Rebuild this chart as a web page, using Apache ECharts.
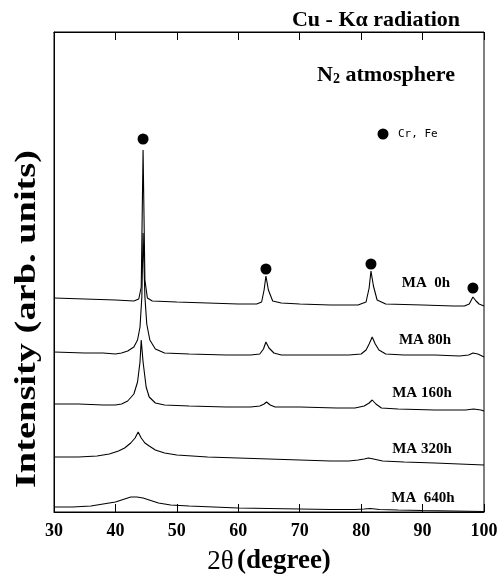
<!DOCTYPE html>
<html><head><meta charset="utf-8">
<script src="https://cdn.jsdelivr.net/npm/echarts@6/dist/echarts.min.js"></script>
<style>html,body{margin:0;padding:0;background:#fff}#c{width:503px;height:574px}</style>
</head><body><div id="c"></div>
<script>
var xTicks = [30, 40, 50, 60, 70, 80, 90, 100];
var seriesNames = ['MA  0h', 'MA 80h', 'MA 160h', 'MA 320h', 'MA  640h'];
var ma0h = [[30,214],[35,213],[40,212],[43,211],[43.8,213],[44.2,225],[44.5,362],[44.8,232],[45.2,214],[46,211],[50,210],[55,209],[60,208],[63,208],[63.8,210],[64.2,222],[64.5,236],[64.9,222],[65.6,211],[67,209],[70,208],[75,207],[79.5,207],[80.8,210],[81.3,224],[81.6,241],[82.0,226],[82.6,212],[84,208],[90,207],[95,206],[96.8,206],[97.6,208],[98.2,215],[98.7,211],[99.2,208],[100,206]];
var ma80h = [[30,160],[35,159],[38,159],[40,158],[41,159],[42,161],[43,165],[43.6,172],[44,185],[44.3,215],[44.5,279],[44.8,215],[45.1,188],[45.6,172],[46.5,163],[48,159],[52,158],[58,157],[62,157],[63.5,158],[64.1,163],[64.5,170],[65,164],[65.8,159],[67,157],[72,157],[78,157],[80,158],[80.8,162],[81.3,168],[81.8,175],[82.3,168],[82.9,162],[84,158],[87,157],[92,157],[96,156],[97.5,157],[98.2,159],[99,158],[100,155]];
var ma160h = [[30,108],[34,108],[38,107],[40,107],[41,108],[42,111],[43,118],[43.6,130],[44,150],[44.2,172],[44.5,150],[45,125],[45.5,115],[46.5,109],[48,107],[52,106],[58,105],[62,105],[63.5,106],[64.2,108],[64.6,110],[65.2,107],[66,105],[70,105],[76,104],[79,104],[80.5,106],[81.3,109],[81.8,112],[82.4,108],[83.3,104],[86,103],[92,102],[97,102],[98.3,103],[99.5,102],[100,101]];
var ma320h = [[30,55],[34,55],[37,56],[39,58],[40.5,61],[41.5,64],[42.5,69],[43.2,74],[43.7,80],[44.2,74],[44.8,69],[45.5,66],[46.5,62],[48,59],[50,57],[55,55],[60,54],[65,53],[70,52],[75,51],[78,51],[79.5,52],[80.5,53],[81.2,54],[82,53],[83.5,51],[87,50],[92,49],[96,48],[100,47]];
var ma640h = [[30,5],[33,5],[36,6],[38,8],[40,10],[41.5,13],[42.5,15],[43.5,15],[44.5,14],[45.5,12],[47,9],[49,7],[52,6],[56,5],[60,4],[65,3.5],[70,3],[75,2.5],[79,2.5],[80.5,3],[81.5,3.5],[83,2.5],[86,2],[90,1.5],[95,1],[100,0.5]];
var peakMarks = [[44.5,373],[64.5,243],[81.6,248],[98.2,224]];

var serif = '"Liberation Serif", "Times New Roman", serif';
var chart = echarts.init(document.getElementById('c'), null, {renderer: 'canvas'});
function line(name, data) {
  return {name: name, type: 'line', data: data, showSymbol: false, smooth: false,
    lineStyle: {color: '#000', width: 1.1}, animation: false, silent: true};
}
var labelPos = [[426, 283], [425, 340], [422, 393], [422, 449], [423, 498]];
var graphics = seriesNames.map(function (n, i) {
  return {type: 'text', x: labelPos[i][0], y: labelPos[i][1], silent: true,
    style: {text: n, font: 'bold 15px ' + serif, fill: '#000', align: 'center', verticalAlign: 'middle'}};
});
graphics.push({type: 'text', x: 376, y: 20, silent: true,
  style: {text: 'Cu - Kα radiation', font: 'bold 22px ' + serif, fill: '#000', align: 'center', verticalAlign: 'middle'}});
graphics.push({type: 'text', x: 386, y: 75, silent: true,
  style: {text: '{a|N}{b|2}{a| atmosphere}', align: 'center', verticalAlign: 'middle',
    rich: {a: {font: 'bold 22px ' + serif, fill: '#000'}, b: {font: 'bold 14px ' + serif, fill: '#000', padding: [8, 0, 0, 0]}}}});
graphics.push({type: 'circle', shape: {cx: 383, cy: 134, r: 5.5}, style: {fill: '#000'}, silent: true});
graphics.push({type: 'text', x: 398, y: 134, silent: true,
  style: {text: 'Cr, Fe', font: '11px "DejaVu Sans Mono", monospace', fill: '#000', align: 'left', verticalAlign: 'middle'}});
graphics.push({type: 'text', x: 27, y: 319, rotation: Math.PI / 2, scaleX: 1.28, scaleY: 1, silent: true,
  style: {text: 'Intensity (arb. units)', font: 'bold 30px ' + serif, fill: '#000', align: 'center', verticalAlign: 'middle'}});

chart.setOption({
  animation: false,
  grid: {left: 54, right: 19, top: 32, bottom: 62, show: true, borderColor: '#000', borderWidth: 1,
    containLabel: false, outerBoundsMode: 'none'},
  xAxis: [{
    type: 'value', min: 30, max: 100, interval: 10, position: 'bottom',
    axisLine: {show: true, lineStyle: {color: '#000', width: 1}},
    axisTick: {show: true, inside: true, length: 8, lineStyle: {color: '#000'}},
    axisLabel: {show: true, margin: 10, color: '#000', fontFamily: serif, fontWeight: 'bold', fontSize: 18,
      formatter: function (v) { return xTicks.indexOf(v) >= 0 ? String(v) : ''; }},
    splitLine: {show: false},
    name: '{a|2θ} {b|(degree)}', nameLocation: 'middle', nameGap: 36,
    nameTextStyle: {rich: {a: {fontFamily: serif, fontSize: 27, color: '#000'}, b: {fontFamily: serif, fontSize: 27, fontWeight: 'bold', color: '#000'}}}
  }, {
    type: 'value', min: 30, max: 100, interval: 10, position: 'top',
    axisLine: {show: true, lineStyle: {color: '#000'}},
    axisTick: {show: true, inside: true, length: 8, lineStyle: {color: '#000'}},
    axisLabel: {show: false}, splitLine: {show: false}
  }],
  yAxis: {type: 'value', min: 0, max: 480, show: true,
    axisLine: {show: true, lineStyle: {color: '#000'}}, axisTick: {show: false}, axisLabel: {show: false}, splitLine: {show: false}},
  series: [
    line(seriesNames[0], ma0h), line(seriesNames[1], ma80h), line(seriesNames[2], ma160h),
    line(seriesNames[3], ma320h), line(seriesNames[4], ma640h),
    {type: 'scatter', data: peakMarks, symbol: 'circle', symbolSize: 11, itemStyle: {color: '#000', opacity: 1}, silent: true}
  ],
  graphic: graphics
});
</script></body></html>
